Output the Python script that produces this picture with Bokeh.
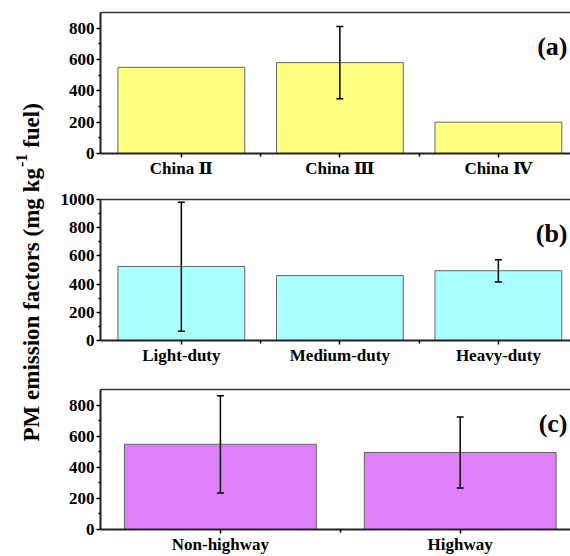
import math
from bokeh.plotting import figure
from bokeh.layouts import row, column
from bokeh.models import (Range1d, FixedTicker, ColumnDataSource, Whisker, TeeHead,
                          Label, LinearAxis)
from bokeh.embed import file_html
from bokeh.resources import INLINE

# ---------------- data ----------------
cats_a = ["China \u2161", "China \u2162", "China \u2163"]
vals_a = [550, 580, 200]
lo_a = [None, 350, None]
hi_a = [None, 810, None]

cats_b = ["Light-duty", "Medium-duty", "Heavy-duty"]
vals_b = [525, 460, 495]
lo_b = [65, None, 415]
hi_b = [980, None, 572]

cats_c = ["Non-highway", "Highway"]
vals_c = [548, 495]
lo_c = [235, 267]
hi_c = [860, 724]

yticks_a = [0, 200, 400, 600, 800]
yticks_b = [0, 200, 400, 600, 800, 1000]
yticks_c = [0, 200, 400, 600, 800]

FONT = "Liberation Serif, Times New Roman, DejaVu Serif, serif"
LABW = 57
PANW = 570 - LABW
BORDER_L = 97 - LABW


def make_panel(cats, vals, lo, hi, color, x_start, x_end, y_end, yticks, tag,
               height, top, bottom):
    xs = list(range(1, len(cats) + 1))
    p = figure(width=PANW, height=height, x_range=Range1d(x_start, x_end),
               y_range=Range1d(0, y_end), output_backend="svg",
               toolbar_location=None, min_border_left=BORDER_L, min_border_right=0,
               min_border_top=top, min_border_bottom=bottom)
    p.outline_line_color = None
    p.xgrid.visible = False
    p.ygrid.visible = False
    p.background_fill_color = "white"
    p.border_fill_color = "white"

    src = ColumnDataSource(dict(x=xs, v=vals))
    p.vbar(x="x", top="v", width=0.8, source=src, fill_color=color,
           line_color="#666666", line_width=1)

    ex = [x for x, l in zip(xs, lo) if l is not None]
    el = [l for l in lo if l is not None]
    eh = [h for h in hi if h is not None]
    if ex:
        esrc = ColumnDataSource(dict(x=ex, lo=el, hi=eh))
        w = Whisker(base="x", lower="lo", upper="hi", source=esrc, level="overlay",
                    line_color="black", line_width=1.5,
                    upper_head=TeeHead(size=7, line_width=1.5, line_color="black"),
                    lower_head=TeeHead(size=7, line_width=1.5, line_color="black"))
        p.add_layout(w)

    xa = p.xaxis[0]
    xa.ticker = FixedTicker(ticks=xs, minor_ticks=[x + 0.5 for x in xs[:-1]])
    xa.major_label_overrides = {x: c for x, c in zip(xs, cats)}
    xa.axis_line_width = 2
    xa.axis_line_color = "#222222"
    xa.major_tick_in = 0
    xa.major_tick_out = 4
    xa.minor_tick_in = 0
    xa.minor_tick_out = 3
    xa.major_tick_line_width = 1.5
    xa.minor_tick_line_width = 1.5
    xa.major_label_standoff = 1
    xa.major_label_text_font = FONT
    xa.major_label_text_font_style = "bold"
    xa.major_label_text_font_size = "17px"
    xa.major_label_text_color = "black"

    ya = p.yaxis[0]
    minor = [t + 100 for t in yticks if t + 100 < y_end]
    ya.ticker = FixedTicker(ticks=yticks, minor_ticks=minor)
    ya.axis_line_width = 2
    ya.axis_line_color = "#222222"
    ya.major_tick_in = 0
    ya.major_tick_out = 4
    ya.minor_tick_in = 0
    ya.minor_tick_out = 2
    ya.major_tick_line_width = 1.5
    ya.minor_tick_line_width = 1.5
    ya.major_label_standoff = 2
    ya.major_label_text_font = FONT
    ya.major_label_text_font_style = "bold"
    ya.major_label_text_font_size = "17px"
    ya.major_label_text_color = "black"

    top_axis = LinearAxis(ticker=FixedTicker(ticks=[]), axis_line_width=1.5,
                          axis_line_color="#333333", major_tick_out=0,
                          major_tick_in=0, minor_tick_out=0, minor_tick_in=0,
                          major_label_text_font_size="0px")
    p.add_layout(top_axis, "above")

    p.add_layout(Label(x=x_end, y=y_end, x_offset=-3, y_offset=-19,
                       text=tag, text_align="right", text_baseline="top",
                       text_font=FONT, text_font_style="bold",
                       text_font_size="26px", text_color="black"))
    return p


fa = make_panel(cats_a, vals_a, lo_a, hi_a, "#FFFF80", 0.49, 3.455, 900,
                yticks_a, "(a)", 186, 12, 33)
fb = make_panel(cats_b, vals_b, lo_b, hi_b, "#AAFFFF", 0.49, 3.455, 1000,
                yticks_b, "(b)", 187, 13, 33)
fc = make_panel(cats_c, vals_c, lo_c, hi_c, "#E080F8", 0.5, 2.46, 900,
                yticks_c, "(c)", 183, 16, 25)

# shared y-axis title
lab = figure(width=LABW, height=556, x_range=Range1d(0, LABW), y_range=Range1d(0, 556),
             output_backend="svg", toolbar_location=None, x_axis_location=None,
             y_axis_location=None, min_border=0)
lab.outline_line_color = None
lab.xgrid.visible = False
lab.ygrid.visible = False

F = 23
S = 16
part1 = "PM emission factors (mg kg"
sup = "-1"
part2 = "fuel)"
w1 = 11.887 * F
ws = 0.833 * S
gap = 0.3 * F
base_x = 31
y0 = 115
common = dict(angle=math.pi / 2, text_align="left", text_baseline="alphabetic",
              text_font=FONT, text_font_style="bold", text_color="black")
lab.add_layout(Label(x=base_x, y=y0, text=part1, text_font_size=f"{F}px", **common))
lab.add_layout(Label(x=base_x - 0.42 * F, y=y0 + w1 + 1, text=sup,
                     text_font_size=f"{S}px", **common))
lab.add_layout(Label(x=base_x, y=y0 + w1 + ws + gap, text=part2,
                     text_font_size=f"{F}px", **common))

layout = row(lab, column(fa, fb, fc))
open("out.html", "w").write(file_html(layout, INLINE))
